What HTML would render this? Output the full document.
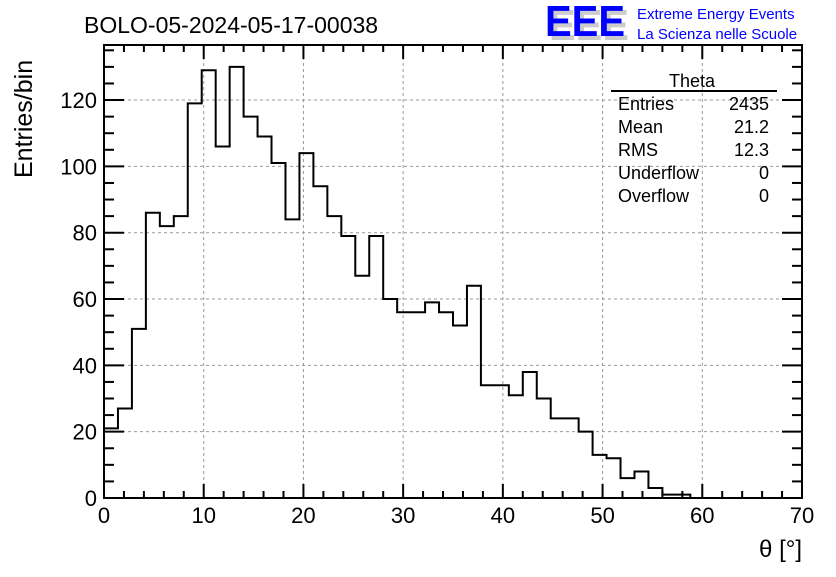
<!DOCTYPE html>
<html><head><meta charset="utf-8"><style>
body{margin:0;background:#fff;width:836px;height:572px;overflow:hidden}
svg text{font-family:"Liberation Sans",Arial,sans-serif}
</style></head><body>
<svg id="c" width="836" height="572" xmlns="http://www.w3.org/2000/svg">
<rect width="836" height="572" fill="#fff"/>
<text x="84" y="33" font-size="23" fill="#000">BOLO-05-2024-05-17-00038</text>
<g>
<text x="549" y="40" font-size="44" font-weight="bold" fill="#ccc" textLength="80" lengthAdjust="spacingAndGlyphs">EEE</text>
<text x="545" y="36" font-size="44" font-weight="bold" fill="#00f" textLength="80" lengthAdjust="spacingAndGlyphs">EEE</text>
<text x="637" y="19" font-size="15" fill="#00f">Extreme Energy Events</text>
<text x="637" y="39" font-size="15" fill="#00f">La Scienza nelle Scuole</text>
</g>
<g id="grid"></g>
<g id="ticks"></g>
<path id="hist" fill="none" stroke="#000" stroke-width="2"/>
<rect x="104" y="45" width="698" height="453" fill="none" stroke="#000" stroke-width="2"/>
<g font-size="18">
<text x="692" y="87" text-anchor="middle">Theta</text>
<line x1="611" y1="91" x2="777" y2="91" stroke="#000" stroke-width="2"/>
<text x="618" y="110">Entries</text><text x="769" y="110" text-anchor="end">2435</text>
<text x="618" y="133">Mean</text><text x="769" y="133" text-anchor="end">21.2</text>
<text x="618" y="156">RMS</text><text x="769" y="156" text-anchor="end">12.3</text>
<text x="618" y="179">Underflow</text><text x="769" y="179" text-anchor="end">0</text>
<text x="618" y="202">Overflow</text><text x="769" y="202" text-anchor="end">0</text>
</g>
<text x="802" y="557" font-size="24" text-anchor="end">θ [°]</text>
<text transform="translate(32,178) rotate(-90)" font-size="25">Entries/bin</text>
</svg>
<script>
const binWidth = 1.4;
const counts = [21,27,51,86,82,85,119,129,106,130,115,109,101,84,104,94,85,79,67,79,60,56,56,59,56,52,64,34,34,31,38,30,24,24,20,13,12,6,8,3,1,1,0,0,0,0,0,0,0,0];
const xTicks = [0,10,20,30,40,50,60,70];
const yTicks = [0,20,40,60,80,100,120];
const X0=104,X1=802,Y0=498,Y1=45,XMAX=70,YMAX=136.6;
const sx=v=>X0+(v/XMAX)*(X1-X0);
const sy=v=>Y0-(v/YMAX)*(Y0-Y1);
const NS="http://www.w3.org/2000/svg";
const grid=document.getElementById('grid'),ticks=document.getElementById('ticks');
function mk(tag,attrs,parent){const e=document.createElementNS(NS,tag);for(const k in attrs)e.setAttribute(k,attrs[k]);parent.appendChild(e);return e;}
xTicks.forEach(v=>{
  const x=sx(v);
  if(v>0&&v<XMAX){const g=mk('line',{x1:x,x2:x,y1:Y1,y2:Y0,stroke:'#999','stroke-dasharray':'3,3'},grid);
  
  }
  const t=mk('text',{x:x,y:523,'font-size':22,'text-anchor':'middle'},ticks);t.textContent=v;
  
  
  mk('line',{x1:x,x2:x,y1:Y0,y2:Y0-14,stroke:'#000','stroke-width':2},ticks);
  mk('line',{x1:x,x2:x,y1:Y1,y2:Y1+14,stroke:'#000','stroke-width':2},ticks);
});
for(let v=0;v<=XMAX;v+=2){if(v%10){const x=sx(v);
  mk('line',{x1:x,x2:x,y1:Y0,y2:Y0-7,stroke:'#000','stroke-width':2},ticks);
  mk('line',{x1:x,x2:x,y1:Y1,y2:Y1+7,stroke:'#000','stroke-width':2},ticks);}}
yTicks.forEach(v=>{
  const y=sy(v);
  if(v>0){const g=mk('line',{x1:X0,x2:X1,y1:y,y2:y,stroke:'#999','stroke-dasharray':'3,3'},grid);
  
  }
  const t=mk('text',{x:97,y:y+8,'font-size':22,'text-anchor':'end'},ticks);t.textContent=v;
  
  
  mk('line',{x1:X0,x2:X0+20,y1:y,y2:y,stroke:'#000','stroke-width':2},ticks);
  mk('line',{x1:X1,x2:X1-20,y1:y,y2:y,stroke:'#000','stroke-width':2},ticks);
});
for(let v=5;v<YMAX;v+=5){if(v%20){const y=sy(v);
  mk('line',{x1:X0,x2:X0+10,y1:y,y2:y,stroke:'#000','stroke-width':2},ticks);
  mk('line',{x1:X1,x2:X1-10,y1:y,y2:y,stroke:'#000','stroke-width':2},ticks);}}
let d='M'+sx(0)+','+sy(counts[0]);
counts.forEach((c,i)=>{d+=' L'+sx(i*binWidth)+','+sy(c)+' L'+sx((i+1)*binWidth)+','+sy(c);});
document.getElementById('hist').setAttribute('d',d);
</script>
</body></html>
